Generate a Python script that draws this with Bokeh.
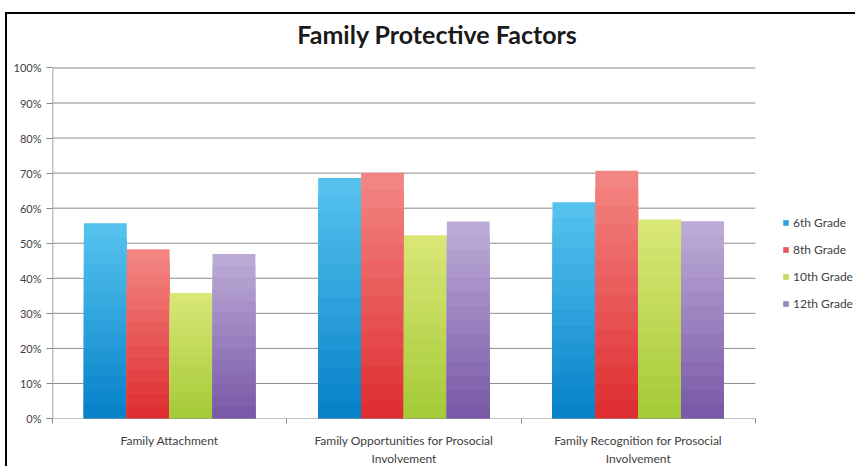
import numpy as np
import pandas as pd
from bokeh.plotting import figure
from bokeh.models import (ColumnDataSource, FixedTicker, NumeralTickFormatter,
                          Legend, LegendItem, Range1d, Label)
from bokeh.embed import file_html
from bokeh.resources import INLINE

title_text = "Family Protective Factors"
categories = ["Family Attachment",
              "Family Opportunities for Prosocial\nInvolvement",
              "Family Recognition for Prosocial\nInvolvement"]
grades = ["6th Grade", "8th Grade", "10th Grade", "12th Grade"]
grade6 = [0.557, 0.686, 0.617]
grade8 = [0.483, 0.701, 0.707]
grade10 = [0.358, 0.523, 0.568]
grade12 = [0.469, 0.562, 0.563]
y_ticks = [0.0, 0.1, 0.2, 0.3, 0.4, 0.5, 0.6, 0.7, 0.8, 0.9, 1.0]

series = [grade6, grade8, grade10, grade12]
top_colors = ["#55C2EE", "#F28581", "#D8E676", "#BBAAD6"]
bottom_colors = ["#0883CA", "#DF2F33", "#A6CB38", "#7A5AA8"]
legend_colors = ["#2AA3DE", "#EA5556", "#C3DB58", "#9A82C0"]

n_cat = len(categories)
centers = [i + 0.5 for i in range(n_cat)]
bounds = [float(i) for i in range(n_cat + 1)]

W, H = 850, 454
# extra headroom above 100% holds the title inside the frame
p = figure(x_range=Range1d(0, 3.436), y_range=Range1d(0, 1.124),
           width=W, height=H, output_backend="svg", toolbar_location=None,
           min_border_left=45, min_border_right=0, min_border_bottom=46, min_border_top=10,
           margin=(12, 0, 0, 5))
p.styles = {"border-left": "2px solid #000", "border-top": "2px solid #000"}

p.outline_line_color = None
p.background_fill_color = "white"
p.border_fill_color = "white"

title = Label(x=1.6426, y=1.098, text=title_text, text_font="Lato", text_font_size="25px",
              text_font_style="bold", text_color="#1a1a1a", text_align="center",
              text_baseline="middle")
p.add_layout(title)

# horizontal gridlines (only across the category area)
grid_src = ColumnDataSource(dict(x0=[bounds[0]] * (len(y_ticks) - 1),
                                 x1=[bounds[-1]] * (len(y_ticks) - 1),
                                 y=y_ticks[1:]))
p.segment(x0="x0", x1="x1", y0="y", y1="y", source=grid_src,
          line_color="#8c8c8c", line_width=1)

def hex2rgb(h):
    h = h.lstrip("#")
    return np.array([int(h[i:i + 2], 16) for i in (0, 2, 4)], dtype=float)

def rgb2hex(c):
    return "#%02x%02x%02x" % tuple(int(round(v)) for v in c)

offsets = [-0.2745, -0.0915, 0.0915, 0.2745]
bw = 0.183
N = 14
legend_items = []
for si, (vals, name) in enumerate(zip(series, grades)):
    c0, c1 = hex2rgb(top_colors[si]), hex2rgb(bottom_colors[si])
    xs = [c + offsets[si] for c in centers]
    for k in range(N):
        frac = 1 - k / N
        t = k / (N - 1)
        col = rgb2hex(c0 * (1 - t) + c1 * t)
        src = ColumnDataSource(dict(x=xs, top=[v * frac for v in vals]))
        p.vbar(x="x", top="top", width=bw, source=src, fill_color=col, line_color=None)
    lsrc = ColumnDataSource(dict(x=xs, top=[0 for _ in vals]))
    lr = p.vbar(x="x", top="top", width=0, source=lsrc,
                fill_color=legend_colors[si], line_color=None)
    legend_items.append(LegendItem(label=name, renderers=[lr]))

# axis lines limited to the data area
p.segment(x0=[bounds[0]], x1=[bounds[-1]], y0=[0], y1=[0], line_color="#888888", line_width=1)
p.segment(x0=[0], x1=[0], y0=[y_ticks[0]], y1=[y_ticks[-1]], line_color="#888888", line_width=1.5)

legend = Legend(items=legend_items, location=(730, 105))
legend.glyph_width = 7
legend.glyph_height = 7
legend.label_text_font = "Lato"
legend.label_text_font_size = "12px"
legend.label_text_color = "#404040"
legend.label_height = 20
legend.spacing = 7
legend.padding = 0
legend.margin = 0
legend.label_standoff = 4
legend.border_line_color = None
legend.background_fill_alpha = 0
p.add_layout(legend, "center")

p.yaxis.ticker = FixedTicker(ticks=y_ticks)
p.yaxis.formatter = NumeralTickFormatter(format="0%")
p.yaxis.major_label_text_font = "Lato"
p.yaxis.major_label_text_font_size = "11px"
p.yaxis.major_label_text_color = "#404040"
p.yaxis.axis_line_color = None
p.yaxis.major_tick_line_color = "#888888"
p.yaxis.major_tick_out = 6
p.yaxis.major_tick_in = 0
p.yaxis.minor_tick_line_color = None

p.xaxis.ticker = FixedTicker(ticks=centers, minor_ticks=bounds)
p.xaxis.major_label_overrides = {c: lab for c, lab in zip(centers, categories)}
p.xaxis.major_label_text_font = "Lato"
p.xaxis.major_label_text_font_size = "12px"
p.xaxis.major_label_text_color = "#404040"
p.xaxis.axis_line_color = None
p.xaxis.major_tick_line_color = None
p.xaxis.minor_tick_line_color = "#888888"
p.xaxis.minor_tick_out = 5
p.xaxis.minor_tick_in = 0
p.xaxis.major_label_standoff = 8

p.xgrid.grid_line_color = None
p.ygrid.grid_line_color = None

open("out.html", "w").write(file_html(p, INLINE))
